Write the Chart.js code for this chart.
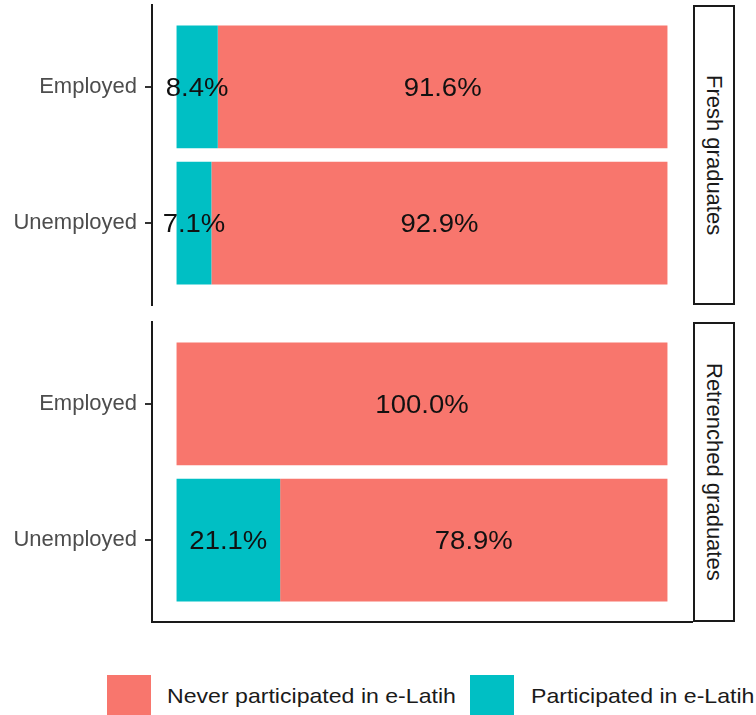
<!DOCTYPE html>
<html><head><meta charset="utf-8">
<script src="https://cdn.jsdelivr.net/npm/chart.js@4"></script>
<style>
html,body{margin:0;padding:0;background:#fff;width:756px;height:715px;overflow:hidden;font-family:"Liberation Sans",Arial,sans-serif;position:relative;}
canvas{position:absolute;left:0;}
.strip{position:absolute;left:693px;width:42px;border:2px solid #1a1a1a;box-sizing:border-box;background:#fff;display:flex;align-items:center;justify-content:center;}
.strip span{writing-mode:vertical-rl;font-size:22px;color:#1a1a1a;white-space:nowrap;}
.key{position:absolute;top:675px;width:44px;height:44px;}
.ltext{position:absolute;top:685px;font-size:21px;line-height:21px;color:#1a1a1a;white-space:nowrap;transform:scaleX(1.1);transform-origin:left center;}
</style></head>
<body>
<canvas id="c1" width="756" height="310" style="top:0px"></canvas>
<canvas id="c2" width="756" height="310" style="top:317px"></canvas>
<div class="strip" id="s1" style="top:5px;height:300px"><span></span></div>
<div class="strip" id="s2" style="top:322px;height:300px"><span></span></div>
<div class="key" id="k1" style="left:107px"></div>
<div class="ltext" id="t1" style="left:167px"></div>
<div class="key" id="k2" style="left:470px"></div>
<div class="ltext" id="t2" style="left:531px"></div>
<script>
const facets = ['Fresh graduates', 'Retrenched graduates'];
const categories = ['Employed', 'Unemployed'];
const seriesNames = ['Participated in e-Latih', 'Never participated in e-Latih'];
const freshParticipated = [8.4, 7.1];
const freshNever = [91.6, 92.9];
const retrenchedParticipated = [0, 21.1];
const retrenchedNever = [100.0, 78.9];
const seriesColors = ['#00BFC4', '#F8766D'];

const FONT = '"Liberation Sans", Arial, sans-serif';

const segLabels = {
  id: 'segLabels',
  afterDatasetsDraw(chart) {
    const ctx = chart.ctx;
    ctx.save();
    ctx.font = '25px ' + FONT;
    ctx.fillStyle = '#111';
    ctx.textAlign = 'center';
    ctx.textBaseline = 'middle';
    chart.data.datasets.forEach((ds, di) => {
      const meta = chart.getDatasetMeta(di);
      meta.data.forEach((bar, i) => {
        const v = ds.data[i].x;
        if (!v) return;
        const cx = (bar.x + bar.base) / 2;
        ctx.save();
        ctx.translate(cx, bar.y + 2);
        ctx.scale(1.1, 1);
        ctx.fillText(v.toFixed(1) + '%', 0, 0);
        ctx.restore();
      });
    });
    ctx.restore();
  }
};

function makePanel(id, partVals, neverVals, showBottom) {
  const toPts = vals => vals.map((v, i) => ({ x: v, y: i + 1 }));
  const xScale = showBottom ? {
    type: 'linear', min: -5, max: 105, stacked: true, display: true, offset: false,
    ticks: { display: false },
    grid: { display: false, drawTicks: false, offset: false },
    border: { display: true, color: '#1a1a1a', width: 2 },
    afterFit: s => { s.height = 0; s.paddingLeft = 0; s.paddingRight = 0; }
  } : { type: 'linear', min: -5, max: 105, stacked: true, display: false, offset: false };
  return new Chart(document.getElementById(id), {
    type: 'bar',
    data: {
      datasets: [
        { label: seriesNames[0], data: toPts(partVals), backgroundColor: seriesColors[0], borderWidth: 0, categoryPercentage: 1, barPercentage: 0.9 },
        { label: seriesNames[1], data: toPts(neverVals), backgroundColor: seriesColors[1], borderWidth: 0, categoryPercentage: 1, barPercentage: 0.9 }
      ]
    },
    options: {
      indexAxis: 'y',
      responsive: false,
      animation: false,
      devicePixelRatio: 1,
      layout: { padding: { top: 5, bottom: 5, left: 0, right: 64 } },
      plugins: { legend: { display: false }, tooltip: { enabled: false } },
      scales: {
        x: xScale,
        y: {
          type: 'linear', min: 0.4, max: 2.6, reverse: true, stacked: true, offset: false,
          afterBuildTicks: s => { s.ticks = categories.map((c, i) => ({ value: i + 1 })); },
          afterFit: s => { s.width = 152; s.paddingTop = 0; s.paddingBottom = 0; },
          ticks: {
            callback: v => categories[Math.round(v) - 1],
            font: { family: FONT, size: 22 },
            color: '#4d4d4d', padding: 8, autoSkip: false
          },
          grid: { display: true, offset: false, drawOnChartArea: false, drawTicks: true, tickLength: 7, color: '#333', lineWidth: 2 },
          border: { display: true, color: '#1a1a1a', width: 2 }
        }
      }
    },
    plugins: [segLabels]
  });
}

makePanel('c1', freshParticipated, freshNever, false);
makePanel('c2', retrenchedParticipated, retrenchedNever, true);

document.querySelector('#s1 span').textContent = facets[0];
document.querySelector('#s2 span').textContent = facets[1];
document.getElementById('k1').style.background = seriesColors[1];
document.getElementById('t1').textContent = seriesNames[1];
document.getElementById('k2').style.background = seriesColors[0];
document.getElementById('t2').textContent = seriesNames[0];
</script>
</body></html>
